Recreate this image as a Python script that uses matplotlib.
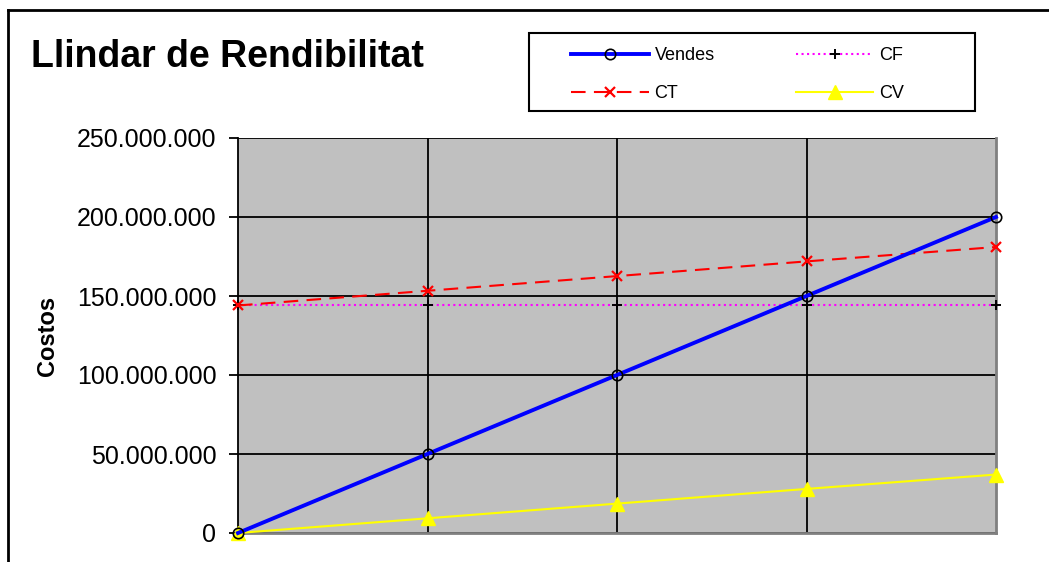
import matplotlib
matplotlib.use('Agg')
import matplotlib.pyplot as plt
from matplotlib.ticker import FuncFormatter
from matplotlib.lines import Line2D
from matplotlib.patches import Rectangle

plt.rcParams['font.family'] = ['Liberation Sans', 'DejaVu Sans']

# data (period index, values in units)
periods = [0, 1, 2, 3, 4]
vendes = [0, 50000000, 100000000, 150000000, 200000000]
cf = [144000000, 144000000, 144000000, 144000000, 144000000]
cv = [0, 9300000, 18600000, 27900000, 37000000]
ct = [144000000, 153300000, 162600000, 171900000, 181000000]
yticks = [0, 50000000, 100000000, 150000000, 200000000, 250000000]

fig = plt.figure(figsize=(10.49, 5.62), dpi=100)
ax = fig.add_axes([238/1049, 1-533/562, (996-238)/1049, (533-138)/562])
ax.set_facecolor('#c0c0c0')

ax.plot(periods, vendes, '-', color='#0000ff', lw=2.8, marker='o', ms=7.5,
        mfc='none', mec='black', mew=1.2, label='Vendes', zorder=5, clip_on=False)
ax.plot(periods, ct, '--', color='#ff0000', lw=1.5, dashes=(7, 4), marker='x', ms=7,
        mec='#ff0000', mew=1.6, label='CT', zorder=4, clip_on=False)
ax.plot(periods, cf, ':', color='#ff00ff', lw=1.5, marker='+', ms=7,
        mec='black', mew=1.4, label='CF', zorder=3, clip_on=False)
ax.plot(periods, cv, '-', color='#ffff00', lw=1.5, marker='^', ms=10,
        mfc='#ffff00', mec='#ffff00', label='CV', zorder=4, clip_on=False)

ax.set_xlim(0, 4)
ax.set_ylim(0, 250000000)
ax.set_yticks(yticks)
ax.yaxis.set_major_formatter(FuncFormatter(lambda v, p: '{:,.0f}'.format(v).replace(',', '.')))
ax.set_xticks([1, 2, 3])
ax.tick_params(axis='x', length=0, labelbottom=False)
ax.tick_params(axis='y', length=6.5, width=1.3, pad=9, labelsize=18, direction='out')
ax.grid(True, color='black', lw=1.3)
ax.set_axisbelow(True)

for s in ['right', 'bottom']:
    ax.spines[s].set_color('#808080')
    ax.spines[s].set_linewidth(2)
ax.spines['left'].set_color('black')
ax.spines['left'].set_linewidth(1.3)
ax.spines['top'].set_visible(False)

ax.set_ylabel('Costos', fontsize=17, fontweight='bold', labelpad=13)

fig.text(31/1049, 1-67/562, 'Llindar de Rendibilitat', fontsize=27,
         fontweight='bold', ha='left', va='baseline')

# legend box drawn separately (Excel legend has extra right padding)
fig.add_artist(Rectangle((529/1049, 1-111/562), (975-529)/1049, (111-33)/562,
                         transform=fig.transFigure, fill=False, ec='black', lw=1.5))
leg = fig.legend(loc='upper left', bbox_to_anchor=(566/1049, 1-42/562), ncol=2,
                 fontsize=13, frameon=False, handlelength=4.3, columnspacing=4.5,
                 borderpad=0.3, labelspacing=1.15, handletextpad=0.3,
                 borderaxespad=0)

# outer chart frame
fig.add_artist(Line2D([8/1049, 8/1049], [0, 1-10/562], color='black', lw=2))
fig.add_artist(Line2D([8/1049, 1], [1-10/562, 1-10/562], color='black', lw=2))

fig.savefig('out.png', dpi=100)
